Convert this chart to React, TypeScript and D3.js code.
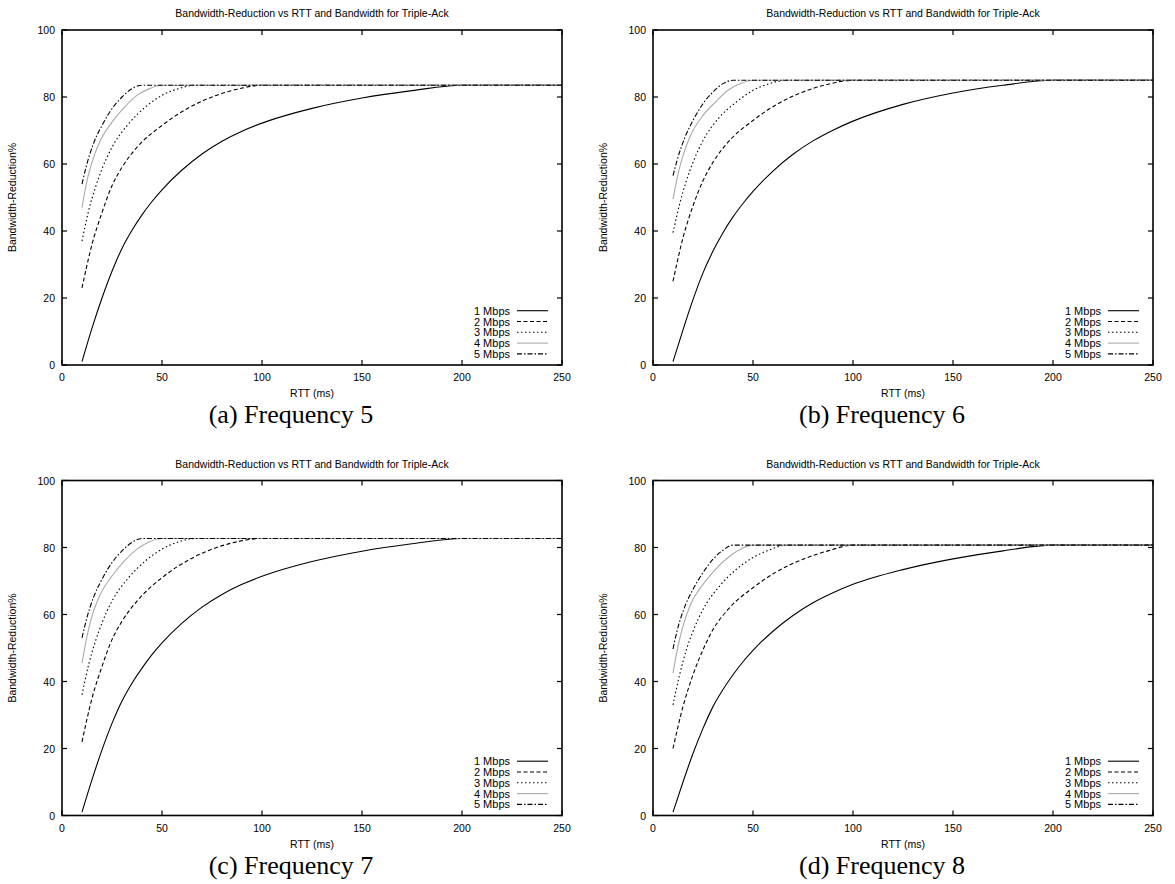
import React from "react";
import * as d3 from "d3";

// ---- data ----
const bandwidths = ["1 Mbps", "2 Mbps", "3 Mbps", "4 Mbps", "5 Mbps"];
const xTicks = [0, 50, 100, 150, 200, 250];
const yTicks = [0, 20, 40, 60, 80, 100];
const chartTitle = "Bandwidth-Reduction vs RTT and Bandwidth for Triple-Ack";
const xLabel = "RTT (ms)";
const yLabel = "Bandwidth-Reduction%";
const captions = ["(a) Frequency 5", "(b) Frequency 6", "(c) Frequency 7", "(d) Frequency 8"];

// RTT sample points per bandwidth series
const rtt1 = [10, 15, 20, 25, 30, 35, 40, 45, 50, 60, 70, 80, 90, 100, 125, 150, 175, 200, 250];
const rtt2 = [10, 15, 20, 25, 30, 37.5, 50, 62.5, 75, 87.5, 100, 250];
const rtt3 = [10, 13.3, 16.7, 20, 25, 33.3, 41.7, 50, 58.3, 66.7, 250];
const rtt4 = [10, 12.5, 15, 18.75, 25, 31.25, 37.5, 43.75, 50, 250];
const rtt5 = [10, 12, 16, 20, 25, 30, 35, 40, 250];

// Frequency 5
const f5_1 = [1, 11, 20, 28, 34.8, 40.2, 44.8, 48.8, 52.3, 58.2, 63, 66.8, 69.8, 72.2, 76.6, 79.7, 81.9, 83.5, 83.5];
const f5_2 = [23, 36, 45.5, 53.5, 59, 65, 71.5, 76.5, 80, 82.3, 83.5, 83.5];
const f5_3 = [37, 46, 53, 58.5, 65, 72, 77, 80.5, 82.5, 83.5, 83.5];
const f5_4 = [47, 55, 60.5, 66.5, 72.5, 77, 80.5, 82.5, 83.5, 83.5];
const f5_5 = [54, 59, 66.5, 71.5, 76.5, 80, 82.5, 83.5, 83.5];

// Frequency 6
const f6_1 = [1, 10.5, 19.5, 27.5, 34, 39.5, 44.2, 48.2, 51.8, 57.9, 62.9, 66.9, 70.1, 72.8, 77.8, 81.2, 83.5, 85, 85];
const f6_2 = [25, 38, 47.5, 55, 60.5, 66.5, 73, 78, 81.5, 83.8, 85, 85];
const f6_3 = [39.5, 48, 55, 60.5, 67, 74, 78.5, 82, 84, 85, 85];
const f6_4 = [49.5, 57, 62.5, 68.5, 74.5, 78.5, 82, 84, 85, 85];
const f6_5 = [56.5, 61, 68, 73, 78, 81.5, 84, 85, 85];

// Frequency 7
const f7_1 = [1, 10.7, 19.6, 27.5, 34.2, 39.5, 44, 48, 51.5, 57.4, 62.2, 66, 69, 71.4, 75.8, 78.9, 81.1, 82.7, 82.7];
const f7_2 = [22, 35, 44.5, 52.5, 58, 64, 71, 76, 79.5, 81.7, 82.7, 82.7];
const f7_3 = [36, 45, 52, 57.5, 64, 71, 76, 79.5, 81.7, 82.7, 82.7];
const f7_4 = [45.5, 53.5, 59.5, 65.5, 71.5, 76, 79.5, 81.7, 82.7, 82.7];
const f7_5 = [53, 58, 65.5, 70.5, 75.5, 79, 81.5, 82.7, 82.7];

// Frequency 8
const f8_1 = [1, 10, 18.5, 26, 32.5, 37.6, 42, 45.9, 49.3, 55, 59.7, 63.5, 66.5, 69, 73.4, 76.6, 79, 80.7, 80.7];
const f8_2 = [20, 32.5, 42, 49.5, 55.5, 61.5, 68, 73, 76.5, 79, 80.7, 80.7];
const f8_3 = [33, 42, 49.5, 55, 61.5, 68.5, 73.5, 77, 79.3, 80.7, 80.7];
const f8_4 = [42.5, 50.5, 56.5, 63, 69, 73.5, 77, 79.5, 80.7, 80.7];
const f8_5 = [49.7, 55, 62.5, 67.5, 72.5, 76.5, 79.2, 80.7, 80.7];

const rtts = [rtt1, rtt2, rtt3, rtt4, rtt5];
const panelValues = [
  [f5_1, f5_2, f5_3, f5_4, f5_5],
  [f6_1, f6_2, f6_3, f6_4, f6_5],
  [f7_1, f7_2, f7_3, f7_4, f7_5],
  [f8_1, f8_2, f8_3, f8_4, f8_5],
];

// ---- styles ----
const seriesStyle = [
  { stroke: "#000", dash: "" },
  { stroke: "#000", dash: "4,2.5" },
  { stroke: "#000", dash: "1.5,2.5" },
  { stroke: "#aaa", dash: "" },
  { stroke: "#000", dash: "5,2,1.5,2" },
];

const W = 1175;
const H = 884;
const PW = 500;
const PH = 335;
const lefts = [62, 653];
const tops = [30, 480.5];
const sans = "'Liberation Sans', Arial, Helvetica, sans-serif";
const serif = "'Liberation Serif', 'Times New Roman', serif";

function Panel({ idx }: { idx: number }) {
  const left = lefts[idx % 2];
  const top = tops[Math.floor(idx / 2)];
  const x = d3.scaleLinear().domain([0, 250]).range([left, left + PW]);
  const y = d3.scaleLinear().domain([0, 100]).range([top + PH, top]);
  const line = d3
    .line<[number, number]>()
    .x((d) => x(d[0]))
    .y((d) => y(d[1]))
    .curve(d3.curveMonotoneX);
  const vals = panelValues[idx];
  const tl = 5;
  const right = left + PW;
  const bottom = top + PH;
  const cx = left + PW / 2;
  return (
    <g>
      <text x={cx} y={top - 13} textAnchor="middle" fontFamily={sans} fontSize={10.5} fill="#000">
        {chartTitle}
      </text>
      {vals.map((v, i) => (
        <path
          key={i}
          d={line(rtts[i].map((r, j) => [r, v[j]] as [number, number])) || ""}
          fill="none"
          stroke={seriesStyle[i].stroke}
          strokeWidth={1.1}
          strokeDasharray={seriesStyle[i].dash}
        />
      ))}
      {xTicks.map((t) => (
        <g key={"x" + t}>
          <line x1={x(t)} x2={x(t)} y1={bottom} y2={bottom - tl} stroke="#000" strokeWidth={1.2} />
          <line x1={x(t)} x2={x(t)} y1={top} y2={top + tl} stroke="#000" strokeWidth={1.2} />
          <text x={x(t)} y={bottom + 16} textAnchor="middle" fontFamily={sans} fontSize={10.5} fill="#000">
            {t}
          </text>
        </g>
      ))}
      {yTicks.map((t) => (
        <g key={"y" + t}>
          <line x1={left} x2={left + tl} y1={y(t)} y2={y(t)} stroke="#000" strokeWidth={1.2} />
          <line x1={right} x2={right - tl} y1={y(t)} y2={y(t)} stroke="#000" strokeWidth={1.2} />
          <text x={left - 7} y={y(t) + 4} textAnchor="end" fontFamily={sans} fontSize={10.5} fill="#000">
            {t}
          </text>
        </g>
      ))}
      <rect x={left} y={top} width={PW} height={PH} fill="none" stroke="#000" strokeWidth={1.6} />
      <text x={cx} y={bottom + 32} textAnchor="middle" fontFamily={sans} fontSize={10.5} fill="#000">
        {xLabel}
      </text>
      <text
        transform={`translate(${left - 46},${top + PH / 2}) rotate(-90)`}
        textAnchor="middle"
        fontFamily={sans}
        fontSize={10.5}
        fill="#000"
      >
        {yLabel}
      </text>
      {bandwidths.map((b, i) => {
        const ly = top + 280.7 + i * 10.8;
        return (
          <g key={b}>
            <text x={right - 52} y={ly + 4} textAnchor="end" fontFamily={sans} fontSize={11} fill="#000">
              {b}
            </text>
            <line
              x1={right - 45}
              x2={right - 14}
              y1={ly}
              y2={ly}
              stroke={seriesStyle[i].stroke}
              strokeWidth={1.1}
              strokeDasharray={seriesStyle[i].dash}
            />
          </g>
        );
      })}
      <text x={left + 229} y={top + 393} textAnchor="middle" fontFamily={serif} fontSize={26} fill="#000">
        {captions[idx]}
      </text>
    </g>
  );
}

export default function App() {
  return (
    <svg
      width={W}
      height={H}
      viewBox={`0 0 ${W} ${H}`}
      style={{ position: "absolute", left: 0, top: 0, background: "#fff" }}
    >
      <rect x={0} y={0} width={W} height={H} fill="#fff" />
      {[0, 1, 2, 3].map((i) => (
        <Panel key={i} idx={i} />
      ))}
    </svg>
  );
}
